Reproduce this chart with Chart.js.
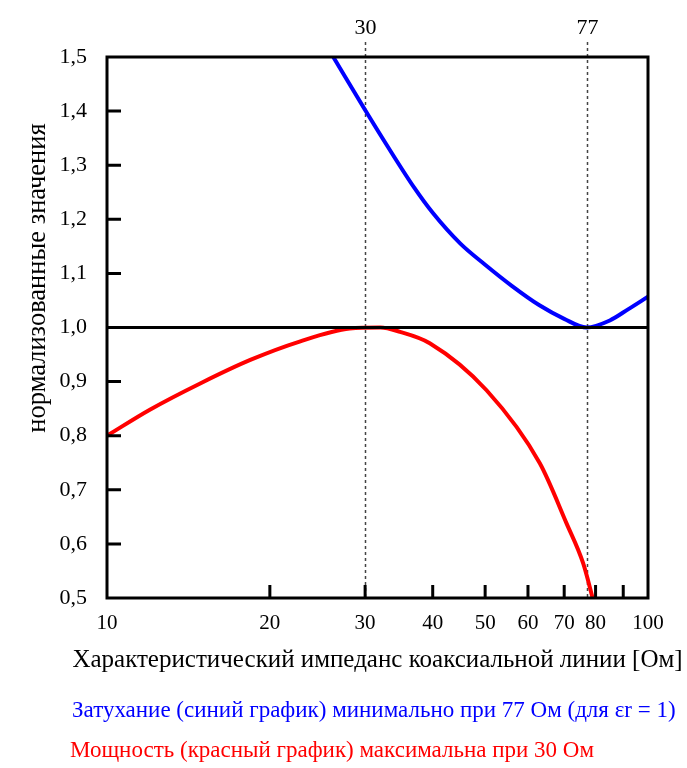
<!DOCTYPE html>
<html>
<head>
<meta charset="utf-8">
<script src="https://cdn.jsdelivr.net/npm/chart.js@4"></script>
<style>
  body { margin: 0; background: #fff; }
  #wrap { position: relative; width: 687px; height: 768px; }
  .note { position: absolute; font-family: "Liberation Serif", serif; font-size: 23px; line-height: 23px; white-space: nowrap; }
</style>
</head>
<body>
<div id="wrap">
  <canvas id="impedanceChart"></canvas>
  <div class="note" style="left:72px; top:698px; color:#0000ff;">Затухание (синий график) минимально при 77 Ом (для εr = 1)</div>
  <div class="note" style="left:70px; top:738px; color:#ff0000;">Мощность (красный график) максимальна при 30 Ом</div>
</div>
<script>
// attenuation (blue), normalised
const blueZ = [26.2, 30, 33, 37, 40, 45, 50, 56, 63, 70, 77, 85, 92, 100];
const blueValues = [1.5, 1.402, 1.335, 1.258, 1.212, 1.155, 1.116, 1.077, 1.041, 1.016, 1.0, 1.013, 1.034, 1.057];

// power handling (red), normalised
const redZ = [10, 12, 14.9, 18.4, 22.7, 28.1, 32, 34.8, 39.5, 50.3, 63.1, 70.7, 75.9, 79.2];
const redValues = [0.8, 0.848, 0.897, 0.94, 0.974, 0.998, 1.0, 0.992, 0.971, 0.884, 0.749, 0.638, 0.564, 0.496];

const xTickValues = [10, 20, 30, 40, 50, 60, 70, 80, 90, 100];
const xTickLabels = ['10', '20', '30', '40', '50', '60', '70', '80', '', '100'];
const markers = [30, 77];
const xTitle = 'Характеристический импеданс коаксиальной линии [Ом]';
const yTitle = 'нормализованные значения';

const serif = '"Liberation Serif", "Times New Roman", serif';

const toPoints = (xs, ys) => xs.map((x, i) => ({ x: x, y: ys[i] }));

const framePlugin = {
    id: 'frame',
    beforeDatasetsDraw(chart) {
        const { ctx, chartArea, scales } = chart;
        ctx.save();
        ctx.strokeStyle = '#444';
        ctx.lineWidth = 1.5;
        ctx.setLineDash([3, 3]);
        ctx.font = '22px ' + serif;
        ctx.fillStyle = '#000';
        ctx.textAlign = 'center';
        ctx.textBaseline = 'middle';
        markers.forEach(m => {
            const px = Math.round(scales.x.getPixelForValue(m)) + 0.5;
            ctx.beginPath();
            ctx.moveTo(px, chartArea.top - 15);
            ctx.lineTo(px, chartArea.bottom);
            ctx.stroke();
            ctx.fillText(String(m), px, chartArea.top - 29);
        });
        ctx.restore();
    },
    afterDatasetsDraw(chart) {
        const { ctx, chartArea, scales } = chart;
        ctx.save();
        ctx.strokeStyle = '#000';
        ctx.lineWidth = 3;
        ctx.strokeRect(chartArea.left, chartArea.top, chartArea.right - chartArea.left, chartArea.bottom - chartArea.top);
        ctx.beginPath();
        xTickValues.slice(1, -1).forEach(v => {
            const px = scales.x.getPixelForValue(v);
            ctx.moveTo(px, chartArea.bottom);
            ctx.lineTo(px, chartArea.bottom - 13);
        });
        scales.y.ticks.forEach(t => {
            if (t.value <= 0.51 || t.value >= 1.49) return;
            const py = scales.y.getPixelForValue(t.value);
            ctx.moveTo(chartArea.left, py);
            ctx.lineTo(chartArea.left + 14, py);
        });
        ctx.stroke();

        // axis titles drawn by hand (chart.js squeezes a long title to the axis width)
        ctx.fillStyle = '#000';
        ctx.textAlign = 'center';
        ctx.textBaseline = 'middle';
        ctx.font = '25px ' + serif;
        ctx.fillText(xTitle, (chartArea.left + chartArea.right) / 2, 660);

        ctx.translate(38, 278);
        ctx.rotate(-Math.PI / 2);
        ctx.font = '26.5px ' + serif;
        ctx.fillText(yTitle, 0, 0);
        ctx.restore();
    }
};

const ctx = document.getElementById('impedanceChart').getContext('2d');

new Chart(ctx, {
    type: 'line',
    data: {
        datasets: [{
            label: 'Затухание',
            data: toPoints(blueZ, blueValues),
            borderColor: '#0000ff',
            borderWidth: 4,
            pointRadius: 0,
            cubicInterpolationMode: 'monotone',
            order: 1
        }, {
            label: 'Мощность',
            data: toPoints(redZ, redValues),
            borderColor: '#ff0000',
            borderWidth: 4,
            pointRadius: 0,
            cubicInterpolationMode: 'monotone',
            order: 2
        }, {
            label: '1,0',
            data: [{ x: 10, y: 1 }, { x: 100, y: 1 }],
            borderColor: '#000',
            borderWidth: 3,
            pointRadius: 0,
            order: 0
        }]
    },
    options: {
        responsive: true,
        maintainAspectRatio: false,
        animation: false,
        layout: {
            padding: { left: 25, top: 57, right: 39, bottom: 91 }
        },
        scales: {
            x: {
                type: 'logarithmic',
                min: 10,
                max: 100,
                afterBuildTicks: scale => {
                    scale.ticks = xTickValues.map(v => ({ value: v }));
                },
                afterFit: scale => { scale.height = 79; },
                grid: { display: false, drawTicks: false },
                border: { display: false },
                ticks: {
                    autoSkip: false,
                    maxRotation: 0,
                    padding: 13,
                    color: '#000',
                    font: { family: serif, size: 21 },
                    callback: (value, index) => xTickLabels[index]
                },
                title: { display: false }
            },
            y: {
                min: 0.5,
                max: 1.5,
                afterFit: scale => { scale.width = 82; },
                grid: { display: false, drawTicks: false },
                border: { display: false },
                ticks: {
                    stepSize: 0.1,
                    padding: 20,
                    color: '#000',
                    font: { family: serif, size: 22 },
                    callback: value => value.toFixed(1).replace('.', ',')
                },
                title: { display: false }
            }
        },
        plugins: {
            legend: { display: false },
            tooltip: { enabled: false }
        }
    },
    plugins: [framePlugin]
});
</script>
</body>
</html>
